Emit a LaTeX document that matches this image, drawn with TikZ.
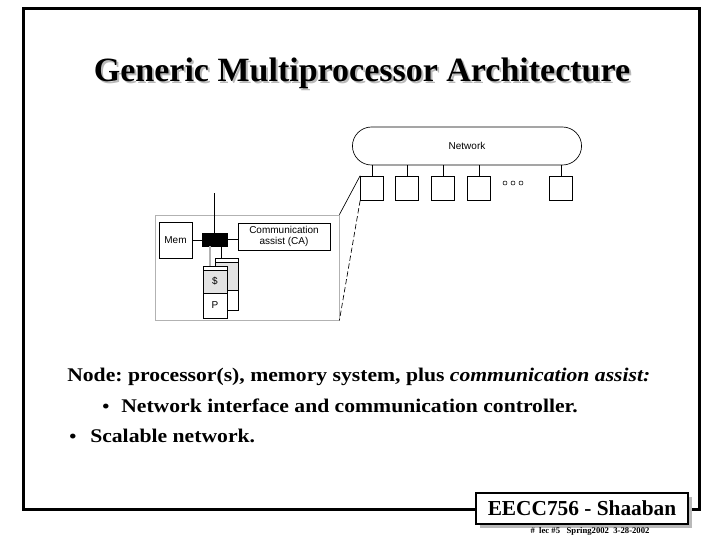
\documentclass[tikz,border=0pt]{standalone}
\usepackage{fontspec}
\setmainfont{Liberation Serif}
\setsansfont{Liberation Sans}
\newfontfamily\slidefont{Liberation Serif}[FakeStretch=1.12,
  BoldItalicFont={Liberation Serif Bold Italic}]
\usetikzlibrary{positioning,shapes.misc}

\begin{document}
\begin{tikzpicture}[x=0.75pt, y=-0.75pt,
  part/.style={draw, fill=white, inner sep=0pt, line width=0.5pt},
  sanslbl/.style={font=\sffamily\fontsize{7.5}{8.5}\selectfont},
  bodytext/.style={font=\slidefont\frenchspacing\bfseries\fontsize{14.5}{17}\selectfont,
                   anchor=base west, inner sep=0pt},
  titletext/.style={font=\bfseries\fontsize{25.5}{30}\selectfont}]

  \useasboundingbox (0,0) rectangle (720,540);

  % ---- Slide frame ----
  \draw[line width=2.25pt] (23,8) rectangle (699,509);

  % ---- Title (with drop shadow) ----
  \node[titletext, text=gray!55] (titleshadow) at (364,75) {Generic Multiprocessor Architecture};
  \node[titletext] (title) at (362,73) {Generic Multiprocessor Architecture};

  % ---- Network and its ports ----
  \node[draw, rounded rectangle, minimum width=178.5pt, minimum height=28.5pt,
        line width=0.5pt, sanslbl] (net) at (467,146) {Network};
  \foreach \i/\xx in {1/372,2/407,3/443,4/479,5/561} {
    \node[part, minimum width=17.25pt, minimum height=18pt] (b\i) at (\xx,188) {};
    \draw[line width=0.5pt] (b\i.north) -- (b\i.north |- net.south);
  }
  \foreach \i/\xx in {1/505,2/513,3/521}
    \node[draw, circle, inner sep=0pt, minimum size=3pt, line width=0.4pt] (dot\i) at (\xx,183) {};

  % ---- Blow-up of one node ----
  \node[draw=gray!60, minimum width=138pt, minimum height=78.75pt, inner sep=0pt,
        line width=0.6pt] (nodebox) at (247,267.5) {};
  \draw[line width=0.5pt] (b1.north west) -- (nodebox.north east);
  \draw[line width=0.5pt, dash pattern=on 4pt off 2pt] (b1.south west) -- (nodebox.south east);

  % memory, network interface, communication assist
  \node[part, minimum width=24.75pt, minimum height=27pt, sanslbl] (mem) at (175.5,240) {Mem};
  \node[draw, fill=black, minimum width=18.75pt, minimum height=9.75pt, inner sep=0pt] (ni) at (214.5,239.5) {};
  \node[part, minimum width=69pt, minimum height=20.25pt, sanslbl, align=center]
    (ca) at (284,236.5) {Communication\\assist (CA)};
  \draw[line width=0.5pt] (mem.east) -- (ni.west |- mem.east);
  \draw[line width=0.5pt] (ni.east) -- (ni.east -| ca.west);
  \coordinate (bus) at (214.5,193);
  \draw[line width=0.5pt] (ni.north) -- (bus);

  % processors (back copy, then front copy)
  \node[part, minimum width=17.25pt, minimum height=3pt] (btop) at (226.5,260) {};
  \node[part, fill=gray!22, minimum width=17.25pt, minimum height=21pt] (bcache) at (226.5,276) {};
  \node[part, minimum width=17.25pt, minimum height=15pt] (bproc) at (226.5,300) {};
  \node[part, minimum width=18pt, minimum height=3pt] (ftop) at (215,268) {};
  \node[part, fill=gray!22, minimum width=18pt, minimum height=17.25pt, sanslbl] (cache) at (215,281.5) {\$};
  \node[part, minimum width=18pt, minimum height=18.75pt, sanslbl] (proc) at (215,305.5) {P};
  \draw[gray!60, line width=1.5pt] ([xshift=-3.4pt]ni.south) -- ([xshift=-3.4pt]ni.south |- ftop.north);
  \draw[line width=0.5pt] ([xshift=4.9pt]ni.south) -- ([xshift=4.9pt]ni.south |- btop.north);

  % ---- Text ----
  \node[bodytext] (line1) at (67,381) {Node: processor(s), memory system, plus \textit{communication assist:}};
  \node[bodytext] (bul1) at (102,412) {\fontsize{13.5}{13.5}\selectfont\textbullet};
  \node[bodytext] (line2) at (121,412) {Network interface and communication controller.};
  \node[bodytext] (bul2) at (69,442) {\fontsize{13.5}{13.5}\selectfont\textbullet};
  \node[bodytext] (line3) at (90,442) {Scalable network.};

  % ---- Footer tag ----
  \node[fill=gray!55, minimum width=159pt, minimum height=23.25pt, inner sep=0pt] (tagshadow) at (586,512.5) {};
  \node[draw, fill=white, line width=1.5pt, minimum width=159pt, minimum height=23.25pt, inner sep=0pt,
        font=\bfseries\fontsize{16}{18}\selectfont] (tag) at (582,508.5) {EECC756 - Shaaban};
  \node[font=\bfseries\fontsize{6.5}{7}\selectfont] (tagnote) at (590,531)
    {\#\ \ lec \#5\ \ \ Spring2002\ \ 3-28-2002};

\end{tikzpicture}
\end{document}
